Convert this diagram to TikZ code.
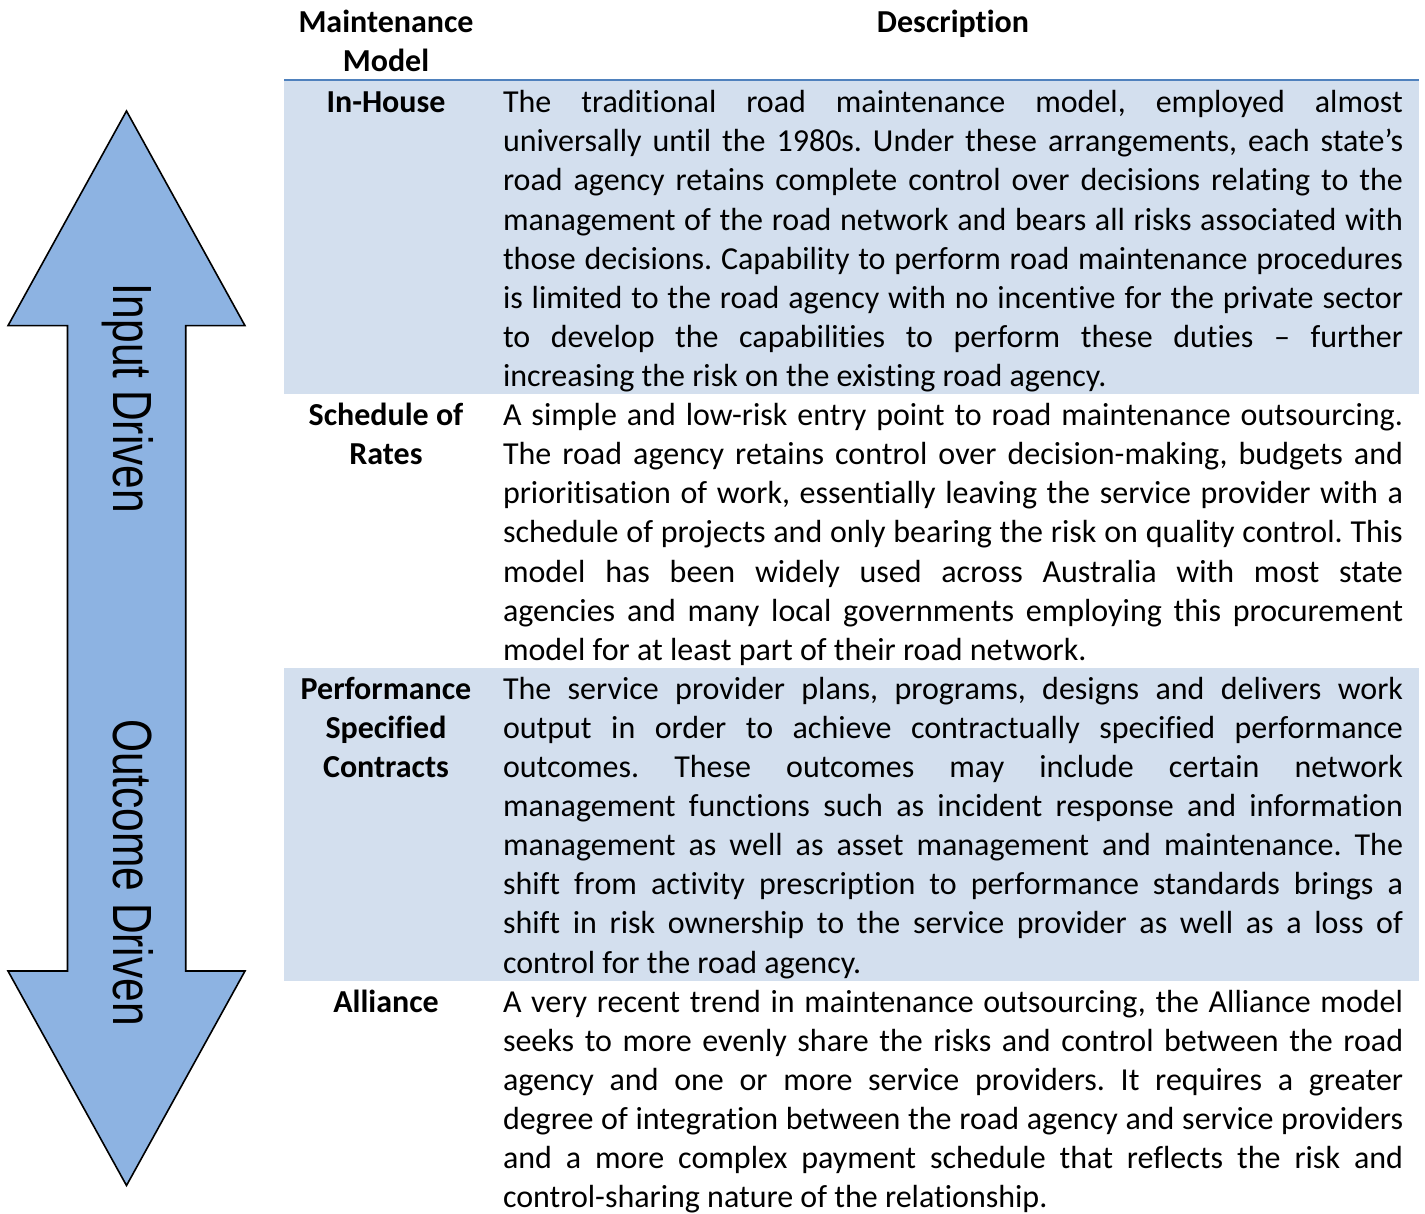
\documentclass[tikz,border=0pt]{standalone}
\usepackage{fontspec}
\usepackage{graphicx}
\setmainfont{Carlito}[Ligatures=NoCommon]
\newfontfamily\arrowfont{Liberation Sans}
\definecolor{rowshade}{HTML}{D3DFEE}
\definecolor{arrowfill}{HTML}{8DB3E2}
\definecolor{headline}{HTML}{4F81BD}
\newlength\dw
\setlength\dw{309.375pt}
\frenchspacing
\begin{document}
\begin{tikzpicture}[x=0.34375pt,y=-0.34375pt,
  every node/.style={inner sep=0pt,outer sep=0pt,font=\fontsize{11}{13.455}\selectfont},
  jl/.style={anchor=base west},
  lbl/.style={anchor=base,font=\fontsize{11}{13.455}\selectfont\bfseries},
  arrowtext/.style={rotate=-90,anchor=base,font=\arrowfont\fontsize{14.6}{17}\selectfont}]
\useasboundingbox (0,0) rectangle (1425,1214);

% shaded rows
\fill[rowshade] (284,81) rectangle (1419,394.5);
\fill[rowshade] (284,668.3) rectangle (1419,981);
% header rule
\draw[headline,line width=0.9pt] (284,80) -- (1419,80);

% double arrow
\draw[fill=arrowfill,line width=0.55pt,line join=miter]
  (126.5,111) -- (245,325.7) -- (185.7,325.7) -- (185.7,971) -- (245,971)
  -- (126.5,1185.5) -- (8,971) -- (67.5,971) -- (67.5,325.7) -- (8,325.7) -- cycle;
\node[arrowtext] (ain) at (113,398.5) {\scalebox{1}[1.3]{Input Driven}};
\node[arrowtext] (aout) at (113,872.5) {\scalebox{1}[1.3]{Outcome Driven}};

% headers
\node[lbl] (h1a) at (386,32.3) {Maintenance};
\node[lbl] (h1b) at (386,71.4) {Model};
\node[lbl] (h2) at (953,32.3) {Description};

% row labels
\node[lbl] (l1) at (386,112.8) {In-House};
\node[lbl] (l2a) at (386,{112.8+39.1*8}) {Schedule of};
\node[lbl] (l2b) at (386,{112.8+39.1*9}) {Rates};
\node[lbl] (l3a) at (386,{112.8+39.1*15}) {Performance};
\node[lbl] (l3b) at (386,{112.8+39.1*16}) {Specified};
\node[lbl] (l3c) at (386,{112.8+39.1*17}) {Contracts};
\node[lbl] (l4) at (386,{112.8+39.1*23}) {Alliance};

% row 1
\foreach \t [count=\i from 0] in {
 {The traditional road maintenance model, employed almost},
 {universally until the 1980s. Under these arrangements, each state’s},
 {road agency retains complete control over decisions relating to the},
 {management of the road network and bears all risks associated with},
 {those decisions. Capability to perform road maintenance procedures},
 {is limited to the road agency with no incentive for the private sector},
 {to develop the capabilities to perform these duties – further}}
 \node[jl] (ra\i) at (503,{112.8+39.1*\i}) {\makebox[\dw][s]{\t}};
\node[jl] (ra7) at (503,{112.8+39.1*7}) {increasing the risk on the existing road agency.};

% row 2
\foreach \t [count=\i from 0] in {
 {A simple and low-risk entry point to road maintenance outsourcing.},
 {The road agency retains control over decision-making, budgets and},
 {prioritisation of work, essentially leaving the service provider with a},
 {schedule of projects and only bearing the risk on quality control. This},
 {model has been widely used across Australia with most state},
 {agencies and many local governments employing this procurement}}
 \node[jl] (rb\i) at (503,{112.8+39.1*(\i+8)}) {\makebox[\dw][s]{\t}};
\node[jl] (rb6) at (503,{112.8+39.1*14}) {model for at least part of their road network.};

% row 3
\foreach \t [count=\i from 0] in {
 {The service provider plans, programs, designs and delivers work},
 {output in order to achieve contractually specified performance},
 {outcomes. These outcomes may include certain network},
 {management functions such as incident response and information},
 {management as well as asset management and maintenance. The},
 {shift from activity prescription to performance standards brings a},
 {shift in risk ownership to the service provider as well as a loss of}}
 \node[jl] (rc\i) at (503,{112.8+39.1*(\i+15)}) {\makebox[\dw][s]{\t}};
\node[jl] (rc7) at (503,{112.8+39.1*22}) {control for the road agency.};

% row 4
\foreach \t [count=\i from 0] in {
 {A very recent trend in maintenance outsourcing, the Alliance model},
 {seeks to more evenly share the risks and control between the road},
 {agency and one or more service providers. It requires a greater},
 {degree of integration between the road agency and service providers},
 {and a more complex payment schedule that reflects the risk and}}
 \node[jl] (rd\i) at (503,{112.8+39.1*(\i+23)}) {\makebox[\dw][s]{\t}};
\node[jl] (rd5) at (503,{112.8+39.1*28}) {control-sharing nature of the relationship.};
\end{tikzpicture}
\end{document}
